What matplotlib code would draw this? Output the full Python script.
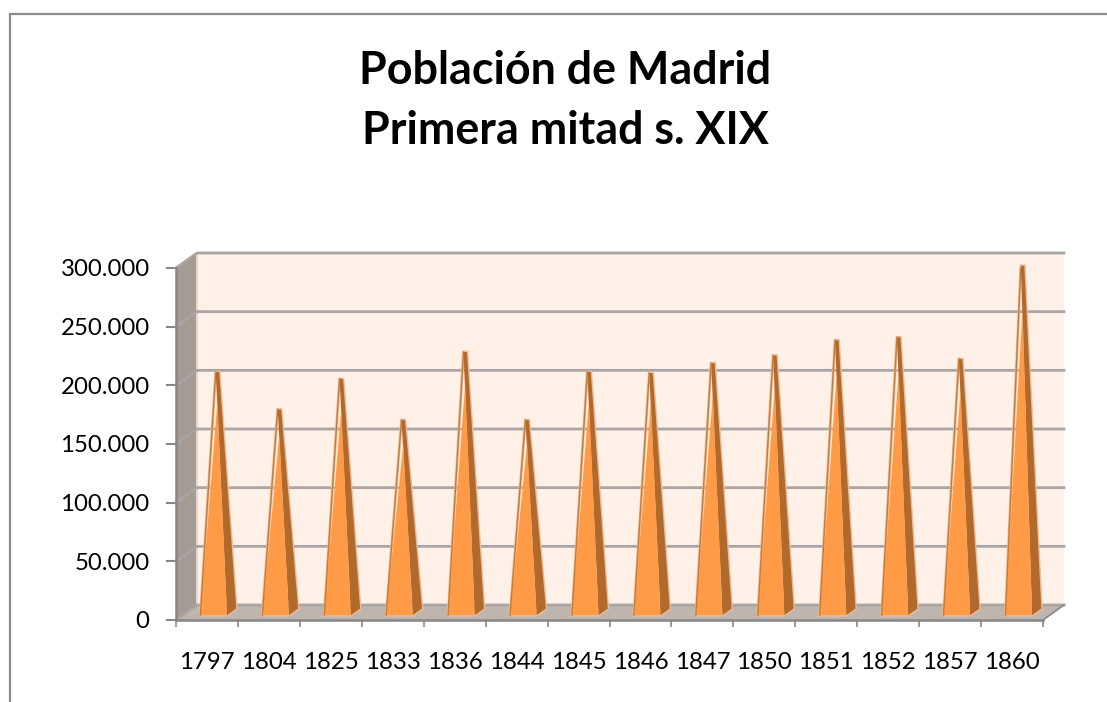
import matplotlib
matplotlib.use("Agg")
import matplotlib.pyplot as plt
from matplotlib.lines import Line2D
from matplotlib.patches import Polygon

plt.rcParams['font.family'] = ['Lato', 'DejaVu Sans']

# Data
years = ['1797', '1804', '1825', '1833', '1836', '1844', '1845',
         '1846', '1847', '1850', '1851', '1852', '1857', '1860']
poblacion = [205000, 173000, 199000, 164000, 222000, 164000, 205000,
             204000, 212500, 219000, 232000, 234500, 216000, 295500]
y_ticks = [0, 50000, 100000, 150000, 200000, 250000, 300000]
y_labels = ['0', '50.000', '100.000', '150.000', '200.000', '250.000', '300.000']
title = 'Población de Madrid\nPrimera mitad s. XIX'

# 3D look: depth of the box in axis units
n = len(years)
DX = 21 / 61.93
DY = 15 / 352 * 300000
BAR_W = 0.43

WALL = '#FFF0E8'
FLOOR = '#BFB5AF'
SIDE_WALL = '#A49B94'
GRID = '#A8A5A2'
AXIS = '#868686'
FRONT = '#FF9A46'
SIDE = '#B26A2C'

fig = plt.figure(figsize=(11.07, 7.02), dpi=100)
ax = fig.add_axes([176 / 1107, (702 - 620) / 702, 867 / 1107, 352 / 702])
ax.set_xlim(0, n)
ax.set_ylim(0, 300000)
ax.patch.set_visible(False)


def add_poly(pts, **kw):
    kw.setdefault('linewidth', 0)
    ax.add_patch(Polygon(pts, closed=True, clip_on=False, **kw))


top = y_ticks[-1]
# back wall, left wall, floor
add_poly([(DX, DY), (n + DX, DY), (n + DX, top + DY), (DX, top + DY)], facecolor=WALL, zorder=1)
add_poly([(0, 0), (DX, DY), (DX, top + DY), (0, top)], facecolor=SIDE_WALL, zorder=1)
add_poly([(0, 0), (n, 0), (n + DX, DY), (DX, DY)], facecolor=FLOOR, zorder=1)
ax.plot([DX, DX], [DY, top + DY], color='#E6D8D0', lw=1.5, clip_on=False, zorder=1.5)

# grid lines run over the back wall and the left wall
for v in y_ticks:
    ax.plot([0, DX, n + DX], [v, v + DY, v + DY], color=GRID, lw=2.0, clip_on=False,
            zorder=2, solid_joinstyle='miter')
ax.plot([n, n + DX], [0, DY], color=AXIS, lw=1.2, clip_on=False, zorder=2)

# pyramids
for i, v in enumerate(poblacion):
    x0 = i + 0.5 + 0.32 * DX
    y0 = 0.32 * DY
    dx = 0.44 * DX
    dy = 0.44 * DY
    left = x0 - BAR_W / 2
    right = x0 + BAR_W / 2
    ax_x = i + 0.5 + 0.5 * DX
    ax_y = v + 0.5 * DY
    # the front face stops short of the tip, the dark side shows above it
    front_top = ax_y - 0.12 * (ax_y - y0)
    tip = 0.028
    side = [(right, y0), (right + dx, y0 + dy), (ax_x + tip, ax_y), (ax_x - tip, ax_y)]
    front = [(left, y0), (right, y0), (ax_x, front_top)]
    halo = [(left, y0), (right, y0), (right + dx, y0 + dy), (ax_x + tip, ax_y), (ax_x - tip, ax_y)]
    add_poly(halo, facecolor='none', edgecolor='#EBBD9B', linewidth=2.0, zorder=3)
    add_poly(side, facecolor=SIDE, zorder=4)
    add_poly(front, facecolor=FRONT, zorder=4)
    ax.plot([left, ax_x - tip], [y0, ax_y], color='#C97B34', lw=1.0, zorder=5)

# axes and labels
for s in ['top', 'right']:
    ax.spines[s].set_visible(False)
for s in ['left', 'bottom']:
    ax.spines[s].set_color(AXIS)
    ax.spines[s].set_linewidth(1.8)
    ax.spines[s].set_zorder(6)

ax.set_yticks(y_ticks)
ax.set_yticklabels(y_labels)
ax.tick_params(axis='y', length=7, width=1.5, color=AXIS, pad=12, labelsize=17.3, labelcolor='black')
ax.set_xticks(range(n + 1))
ax.set_xticklabels([])
ax.tick_params(axis='x', length=5, width=1.2, color=AXIS)
ax.set_xticks([i + 0.5 for i in range(n)], minor=True)
ax.set_xticklabels(years, minor=True)
ax.tick_params(axis='x', which='minor', length=0, pad=23, labelsize=17.3, labelcolor='black')

fig.text(565 / 1107, 1 - 101 / 702, title, ha='center', va='center', fontsize=32.3,
         fontweight='bold', color='black', linespacing=1.55)

# chart frame, cut off by the picture on the right and at the bottom
fig.add_artist(Line2D([9.5 / 1107, 9.5 / 1107, 1], [0, 1 - 14 / 702, 1 - 14 / 702],
                      color='#8C8C8C', lw=1.6, solid_joinstyle='miter'))

fig.savefig('out.png', dpi=100)
